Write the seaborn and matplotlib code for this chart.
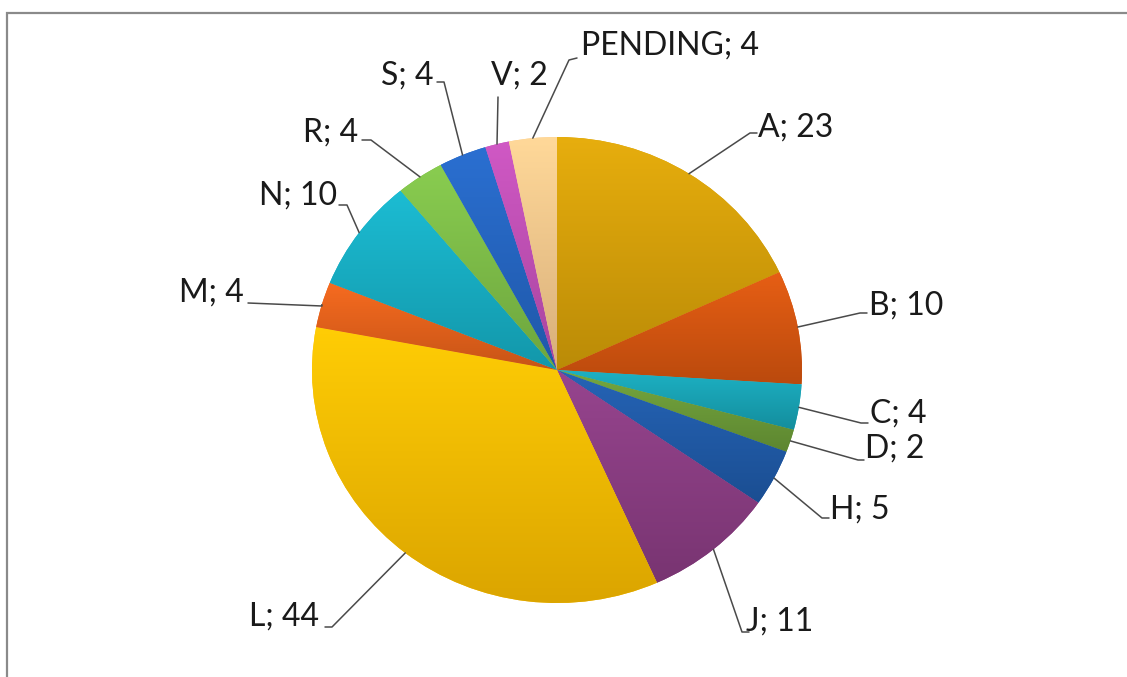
import numpy as np
import matplotlib
matplotlib.use("Agg")
import matplotlib.pyplot as plt
import matplotlib.colors as mcolors
from matplotlib.patches import Rectangle
import seaborn as sns

# ---- data ----
categories = ["A", "B", "C", "D", "H", "J", "L", "M", "N", "R", "S", "V", "PENDING"]
values = [23, 10, 4, 2, 5, 11, 44, 4, 10, 4, 4, 2, 4]
colors = ["#D9A208", "#D9560F", "#17A5B7", "#6C9C38", "#1F5BAA", "#8C3D84",
          "#FFC000", "#E8621A", "#16B0C6", "#7FC048", "#2466C4", "#C350B8", "#FBCB8E"]

# ---- layout (pixel positions, origin top-left) ----
# label anchor (x, y), alignment, elbow point, end of short horizontal
label_layout = {
    "A":       ((758, 128), "left",  (750, 133), (757, 133)),
    "B":       ((869, 306), "left",  (860, 313), (867, 313)),
    "C":       ((870, 414), "left",  (861, 423), (868, 423)),
    "D":       ((865, 449), "left",  (858, 460), (864, 460)),
    "H":       ((830, 510), "left",  (822, 518), (829, 518)),
    "J":       ((746, 622), "left",  (742, 632), (749, 632)),
    "L":       ((319, 617), "right", (332, 627), (325, 627)),
    "M":       ((244, 293), "right", (322, 306), (248, 303)),
    "N":       ((337, 196), "right", (347, 205), (339, 205)),
    "R":       ((358, 133), "right", (371, 140), (362, 140)),
    "S":       ((433, 76),  "right", (444, 82),  (437, 82)),
    "V":       ((548, 76),  None,    (498, 97),  (498, 97)),
    "PENDING": ((581, 46),  "left",  (569, 60),  (577, 58)),
}

CX, CY, RX, RY = 557, 370, 245, 233
W, H = 1127, 677


def P(x, y):
    return ((x - CX) / RX, (CY - y) / RY)


sns.set_theme(style="white")
plt.rcParams["font.family"] = ["Lato", "DejaVu Sans"]

fig = plt.figure(figsize=(W / 100, H / 100), dpi=100)
ax = fig.add_axes([0, 0, 1, 1])

wedges, _ = ax.pie(values, colors=colors, startangle=90, counterclock=False,
                   radius=1.0, wedgeprops=dict(linewidth=0))

# vertical gradient on each slice (lighter top, darker bottom)
for w, c in zip(wedges, colors):
    ext = w.get_path().get_extents()
    rgb = np.array(mcolors.to_rgb(c))
    top = np.clip(rgb * 1.04 + 0.02, 0, 1)
    bot = rgb * 0.86
    t = np.linspace(0, 1, 64)[:, None]
    grad = (top[None, :] * (1 - t) + bot[None, :] * t)[:, None, :]
    im = ax.imshow(grad, extent=(ext.x0, ext.x1, ext.y0, ext.y1), origin="upper",
                   aspect="auto", interpolation="bilinear", zorder=2)
    im.set_clip_path(w)

ax.set_aspect("auto")
ax.set_xlim(-CX / RX, (W - CX) / RX)
ax.set_ylim((CY - H) / RY, CY / RY)
ax.axis("off")

# labels and leader lines
for w, cat, v in zip(wedges, categories, values):
    mid = np.deg2rad((w.theta1 + w.theta2) / 2)
    ax_x, ax_y = np.cos(mid), np.sin(mid)
    (tx, ty), ha, elbow, hend = label_layout[cat]
    ex, ey = P(*elbow)
    hx, hy = P(*hend)
    ax.plot([ax_x, ex, hx], [ax_y, ey, hy], color="#4a4a4a", lw=1.1,
            zorder=3, solid_capstyle="round")
    lx, ly = P(tx, ty)
    if ha is None:
        ax.text(lx, ly, f"{cat}; {v}", ha="right", va="center", fontsize=23,
                color="#1a1a1a")
    else:
        ax.text(lx, ly, f"{cat}; {v}", ha=ha, va="center", fontsize=23,
                color="#1a1a1a")

# outer frame (partially cropped like the reference)
fig.patches.append(Rectangle((7 / W, -0.05), 1.2, (H - 13) / H + 0.05,
                             transform=fig.transFigure, fill=False,
                             edgecolor="#8a8a8a", lw=1.6))

fig.savefig("out.png", dpi=100)
